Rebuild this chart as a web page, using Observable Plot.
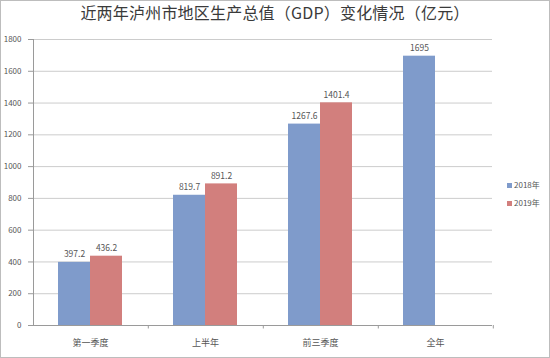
<!DOCTYPE html>
<html>
<head>
<meta charset="utf-8">
<script src="https://cdn.jsdelivr.net/npm/d3@7"></script>
<script src="https://cdn.jsdelivr.net/npm/@observablehq/plot@0.6"></script>
<style>
  html, body { margin: 0; padding: 0; background: #fff; }
  #wrap { position: relative; width: 550px; height: 358px; overflow: hidden; font-family: "Noto Sans CJK SC", "Noto Sans", sans-serif; }
  #title { height: 30px; line-height: 25px; text-align: center; font-size: 16px; color: #3a3a3a; letter-spacing: 0.2px; }
  #frame { position: absolute; left: 0; top: 0; width: 548px; height: 356px; border: 1px solid #bdbdbd; pointer-events: none; }
  #legend { position: absolute; left: 507px; top: 176px; font-size: 8px; color: #555; line-height: 18px; }
  #legend span.sw { display: inline-block; width: 5px; height: 5px; margin-right: 2px; vertical-align: 0px; }
  svg { display: block; }
</style>
</head>
<body>
<div id="wrap">
  <div id="title">近两年泸州市地区生产总值（GDP）变化情况（亿元）</div>
  <div id="chart"></div>
  <div id="legend"></div>
  <div id="frame"></div>
</div>
<script>
const categories = ["第一季度", "上半年", "前三季度", "全年"];
const series = ["2018年", "2019年"];
const values2018 = [397.2, 819.7, 1267.6, 1695];
const values2019 = [436.2, 891.2, 1401.4, null];
const yTicks = [0, 200, 400, 600, 800, 1000, 1200, 1400, 1600, 1800];
const colors = ["#7f9bcb", "#d27f7d"];

const d18 = categories.map((c, i) => ({cat: c, v: values2018[i]}));
const d19 = categories.map((c, i) => ({cat: c, v: values2019[i]})).filter(d => d.v != null);

const chart = Plot.plot({
  width: 550,
  height: 328,
  marginLeft: 33,
  marginRight: 58,
  marginTop: 9,
  marginBottom: 33,
  style: {fontFamily: "'Noto Sans CJK SC', 'Noto Sans', sans-serif", background: "transparent"},
  x: {domain: categories, paddingInner: 0.4467, paddingOuter: 0.2075, label: null},
  y: {domain: [0, 1800], label: null},
  marks: [
    Plot.gridY(yTicks, {stroke: "#cccccc", strokeOpacity: 1}),
    Plot.axisY(yTicks, {tickSize: 5, tickPadding: 7, fontSize: 8, fill: "#555", stroke: "#9a9a9a", label: null, tickFormat: d => String(d)}),
    Plot.frame({anchor: "left", stroke: "#9a9a9a"}),
    Plot.barY(d18, {x: "cat", y: "v", fill: colors[0], insetRight: 32}),
    Plot.barY(d19, {x: "cat", y: "v", fill: colors[1], insetLeft: 32}),
    Plot.ruleY([0], {stroke: "#9a9a9a"}),
    Plot.ruleX(categories, {x: d => d, dx: 57.8, y1: 0, y2: -22, stroke: "#9a9a9a"}),
    Plot.text(d18, {x: "cat", y: "v", text: d => String(d.v), dx: -16, dy: -8, fontSize: 8.5, fill: "#555"}),
    Plot.text(d19, {x: "cat", y: "v", text: d => String(d.v), dx: 16, dy: -8, fontSize: 8.5, fill: "#555"}),
    Plot.axisX({tickSize: 0, tickPadding: 14, fontSize: 9, fill: "#555", label: null})
  ]
});
document.getElementById("chart").appendChild(chart);

const legend = document.getElementById("legend");
series.forEach((s, i) => {
  const row = document.createElement("div");
  row.innerHTML = `<span class="sw" style="background:${colors[i]}"></span>${s}`;
  legend.appendChild(row);
});
</script>
</body>
</html>
